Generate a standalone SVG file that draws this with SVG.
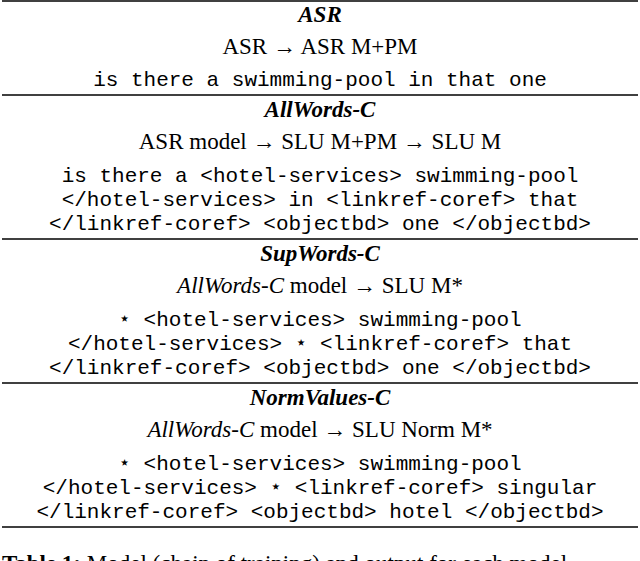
<svg xmlns="http://www.w3.org/2000/svg" width="640" height="561" viewBox="0 0 640 561">
<style>
.h{font-family:"Liberation Serif",serif;font-size:23px;font-weight:bold;font-style:italic;text-anchor:middle}
.s{font-family:"Liberation Serif",serif;font-size:23px;text-anchor:middle}
.m{font-family:"Liberation Mono",monospace;font-size:21px;text-anchor:middle}
.r{stroke:#000;stroke-width:1.5}
</style>
<rect width="640" height="561" fill="#fff"/>
<g id="rules">
<line class="r" x1="2" y1="1" x2="638" y2="1"/>
<line class="r" x1="2" y1="95" x2="638" y2="95"/>
<line class="r" x1="2" y1="239" x2="638" y2="239"/>
<line class="r" x1="2" y1="383" x2="638" y2="383"/>
<line class="r" x1="2" y1="527" x2="638" y2="527"/>
</g>
<g id="asr">
<text class="h" x="320" y="22">ASR</text>
<text class="s" x="320" y="54">ASR → ASR M+PM</text>
<text class="m" x="320" y="86">is there a swimming-pool in that one</text>
</g>
<g id="allwords">
<text class="h" x="320" y="117">AllWords-C</text>
<text class="s" x="320" y="149">ASR model → SLU M+PM → SLU M</text>
<text class="m" x="320" y="182">is there a &lt;hotel-services&gt; swimming-pool</text>
<text class="m" x="320" y="206">&lt;/hotel-services&gt; in &lt;linkref-coref&gt; that</text>
<text class="m" x="320" y="230">&lt;/linkref-coref&gt; &lt;objectbd&gt; one &lt;/objectbd&gt;</text>
</g>
<g id="supwords">
<text class="h" x="320" y="261">SupWords-C</text>
<text class="s" x="320" y="293"><tspan font-style="italic">AllWords-C</tspan> model → SLU M*</text>
<text class="m" x="320" y="326">⋆ &lt;hotel-services&gt; swimming-pool</text>
<text class="m" x="320" y="350">&lt;/hotel-services&gt; ⋆ &lt;linkref-coref&gt; that</text>
<text class="m" x="320" y="374">&lt;/linkref-coref&gt; &lt;objectbd&gt; one &lt;/objectbd&gt;</text>
</g>
<g id="normvalues">
<text class="h" x="320" y="405">NormValues-C</text>
<text class="s" x="320" y="437"><tspan font-style="italic">AllWords-C</tspan> model → SLU Norm M*</text>
<text class="m" x="320" y="470">⋆ &lt;hotel-services&gt; swimming-pool</text>
<text class="m" x="320" y="494">&lt;/hotel-services&gt; ⋆ &lt;linkref-coref&gt; singular</text>
<text class="m" x="320" y="518">&lt;/linkref-coref&gt; &lt;objectbd&gt; hotel &lt;/objectbd&gt;</text>
</g>
<text x="2" y="571" style="font-family:'Liberation Serif',serif;font-size:23px"><tspan font-weight="bold">Table 1:</tspan> Model (chain of training) and output for each model</text>
</svg>
